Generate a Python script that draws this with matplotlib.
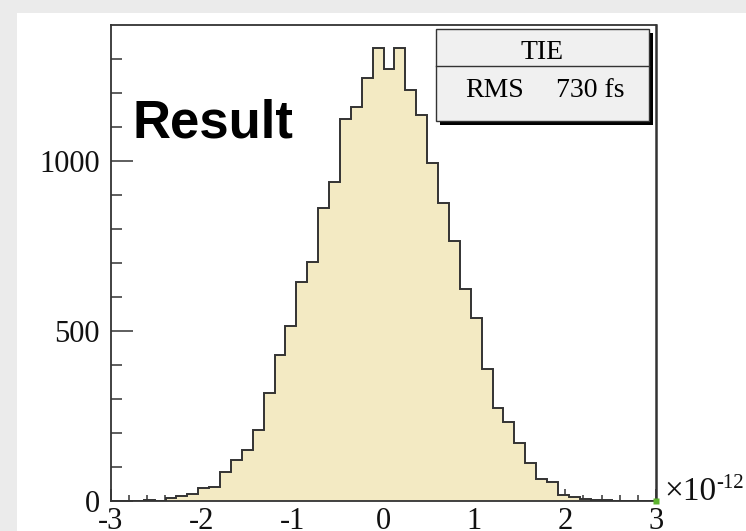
import numpy as np
import matplotlib
matplotlib.use("Agg")
import matplotlib.pyplot as plt
from matplotlib.patches import Rectangle
from matplotlib.lines import Line2D
from matplotlib.ticker import MultipleLocator, FixedLocator, FixedFormatter

# TIE histogram, 50 bins over [-3, 3] x 1e-12 s
x_lo, x_hi, n_bins = -3.0, 3.0, 50
counts = [0, 0, 0, 4, 1, 9, 14, 21, 38, 42,
          86, 120, 150, 209, 317, 429, 515, 645, 704, 863,
          939, 1124, 1160, 1243, 1331, 1272, 1331, 1209, 1135, 993,
          876, 765, 625, 539, 387, 275, 232, 172, 111, 65,
          56, 19, 12, 5, 3, 3, 0, 0, 0, 0]
x_ticks = [-3, -2, -1, 0, 1, 2, 3]
x_ticklabels = ["-3", "-2", "-1", "0", "1", "2", "3"]
y_ticks = [0, 500, 1000]
y_ticklabels = ["0", "500", "1000"]
y_max = 1400
stat_title = "TIE"
stat_name = "RMS"
stat_value = "730 fs"

W, H = 746, 531
SERIF = "Liberation Serif"
fill_col = "#f3eac3"
line_col = "#333333"


def fx(x):
    return x / W


def fy(y):
    return 1 - y / H


fig = plt.figure(figsize=(W / 100, H / 100), dpi=100, facecolor="white")

# grey canvas border (top and left)
fig.patches.append(Rectangle((0, fy(13)), 1, 13 / H, transform=fig.transFigure,
                             facecolor="#ebebeb", edgecolor="none", zorder=0))
fig.patches.append(Rectangle((0, 0), fx(17), 1, transform=fig.transFigure,
                             facecolor="#ebebeb", edgecolor="none", zorder=0))

ax = fig.add_axes([fx(111), fy(501), fx(656) - fx(111), fy(25) - fy(501)])
ax.set_facecolor("white")

edges = np.linspace(x_lo, x_hi, n_bins + 1)
ax.stairs(counts, edges, baseline=0, fill=True, color=fill_col, zorder=2)
ax.stairs(counts, edges, baseline=0, color=line_col, lw=1.4, zorder=3)

ax.set_xlim(x_lo, x_hi)
ax.set_ylim(0, y_max)

ax.xaxis.set_major_locator(FixedLocator(x_ticks))
ax.xaxis.set_major_formatter(FixedFormatter(x_ticklabels))
ax.xaxis.set_minor_locator(MultipleLocator(0.2))
ax.yaxis.set_major_locator(FixedLocator(y_ticks))
ax.yaxis.set_major_formatter(FixedFormatter(y_ticklabels))
ax.yaxis.set_minor_locator(FixedLocator(range(100, 1400, 100)))

ax.tick_params(axis="both", which="both", direction="in", colors=line_col,
               labelcolor="#111111", width=1.1, top=False, right=False)
ax.tick_params(axis="x", which="major", length=8.6, pad=4)
ax.tick_params(axis="x", which="minor", length=4.3)
ax.tick_params(axis="y", which="major", length=15.8, pad=8)
ax.tick_params(axis="y", which="minor", length=7.9)
for lab in ax.get_xticklabels() + ax.get_yticklabels():
    lab.set_fontfamily(SERIF)
    lab.set_fontsize(22)

for side in ax.spines.values():
    side.set_color(line_col)
    side.set_linewidth(1.3)
ax.spines["right"].set_linewidth(1.8)

# small green marker at the axis corner
ax.plot([x_hi], [0], marker="s", ms=4, color="#5cb32e", mec="none",
        clip_on=False, zorder=5)

# exponent label for the x axis
fig.text(fx(664), fy(500), "\u00d710", family=SERIF, fontsize=24,
         va="baseline", ha="left", color="#111111")
fig.text(fx(716), fy(488), "-12", family=SERIF, fontsize=15,
         va="baseline", ha="left", color="#111111")

fig.text(fx(133), fy(137), "Result", family="Liberation Sans",
         fontweight="bold", fontsize=38, va="baseline", ha="left")

# statistics box with drop shadow
bx0, by0, bx1, by1 = 436, 29, 649, 121
fig.patches.append(Rectangle((fx(bx0 + 4), fy(by1 + 4)), fx(bx1 - bx0), (by1 - by0) / H,
                             transform=fig.transFigure, facecolor="black",
                             edgecolor="none", zorder=6))
fig.patches.append(Rectangle((fx(bx0), fy(by1)), fx(bx1 - bx0), (by1 - by0) / H,
                             transform=fig.transFigure, facecolor="#f0f0f0",
                             edgecolor=line_col, lw=1.0, zorder=7))
fig.lines.append(Line2D([fx(bx0), fx(bx1)], [fy(66), fy(66)], transform=fig.transFigure,
                        color=line_col, lw=1.0, zorder=8))
fig.text(fx(542), fy(59), stat_title, family=SERIF, fontsize=20,
         ha="center", va="baseline", zorder=9)
fig.text(fx(465), fy(97), stat_name, family=SERIF, fontsize=20,
         ha="left", va="baseline", zorder=9)
fig.text(fx(625), fy(97), stat_value, family=SERIF, fontsize=20,
         ha="right", va="baseline", zorder=9)

fig.savefig("out.png", dpi=100, facecolor="white")
